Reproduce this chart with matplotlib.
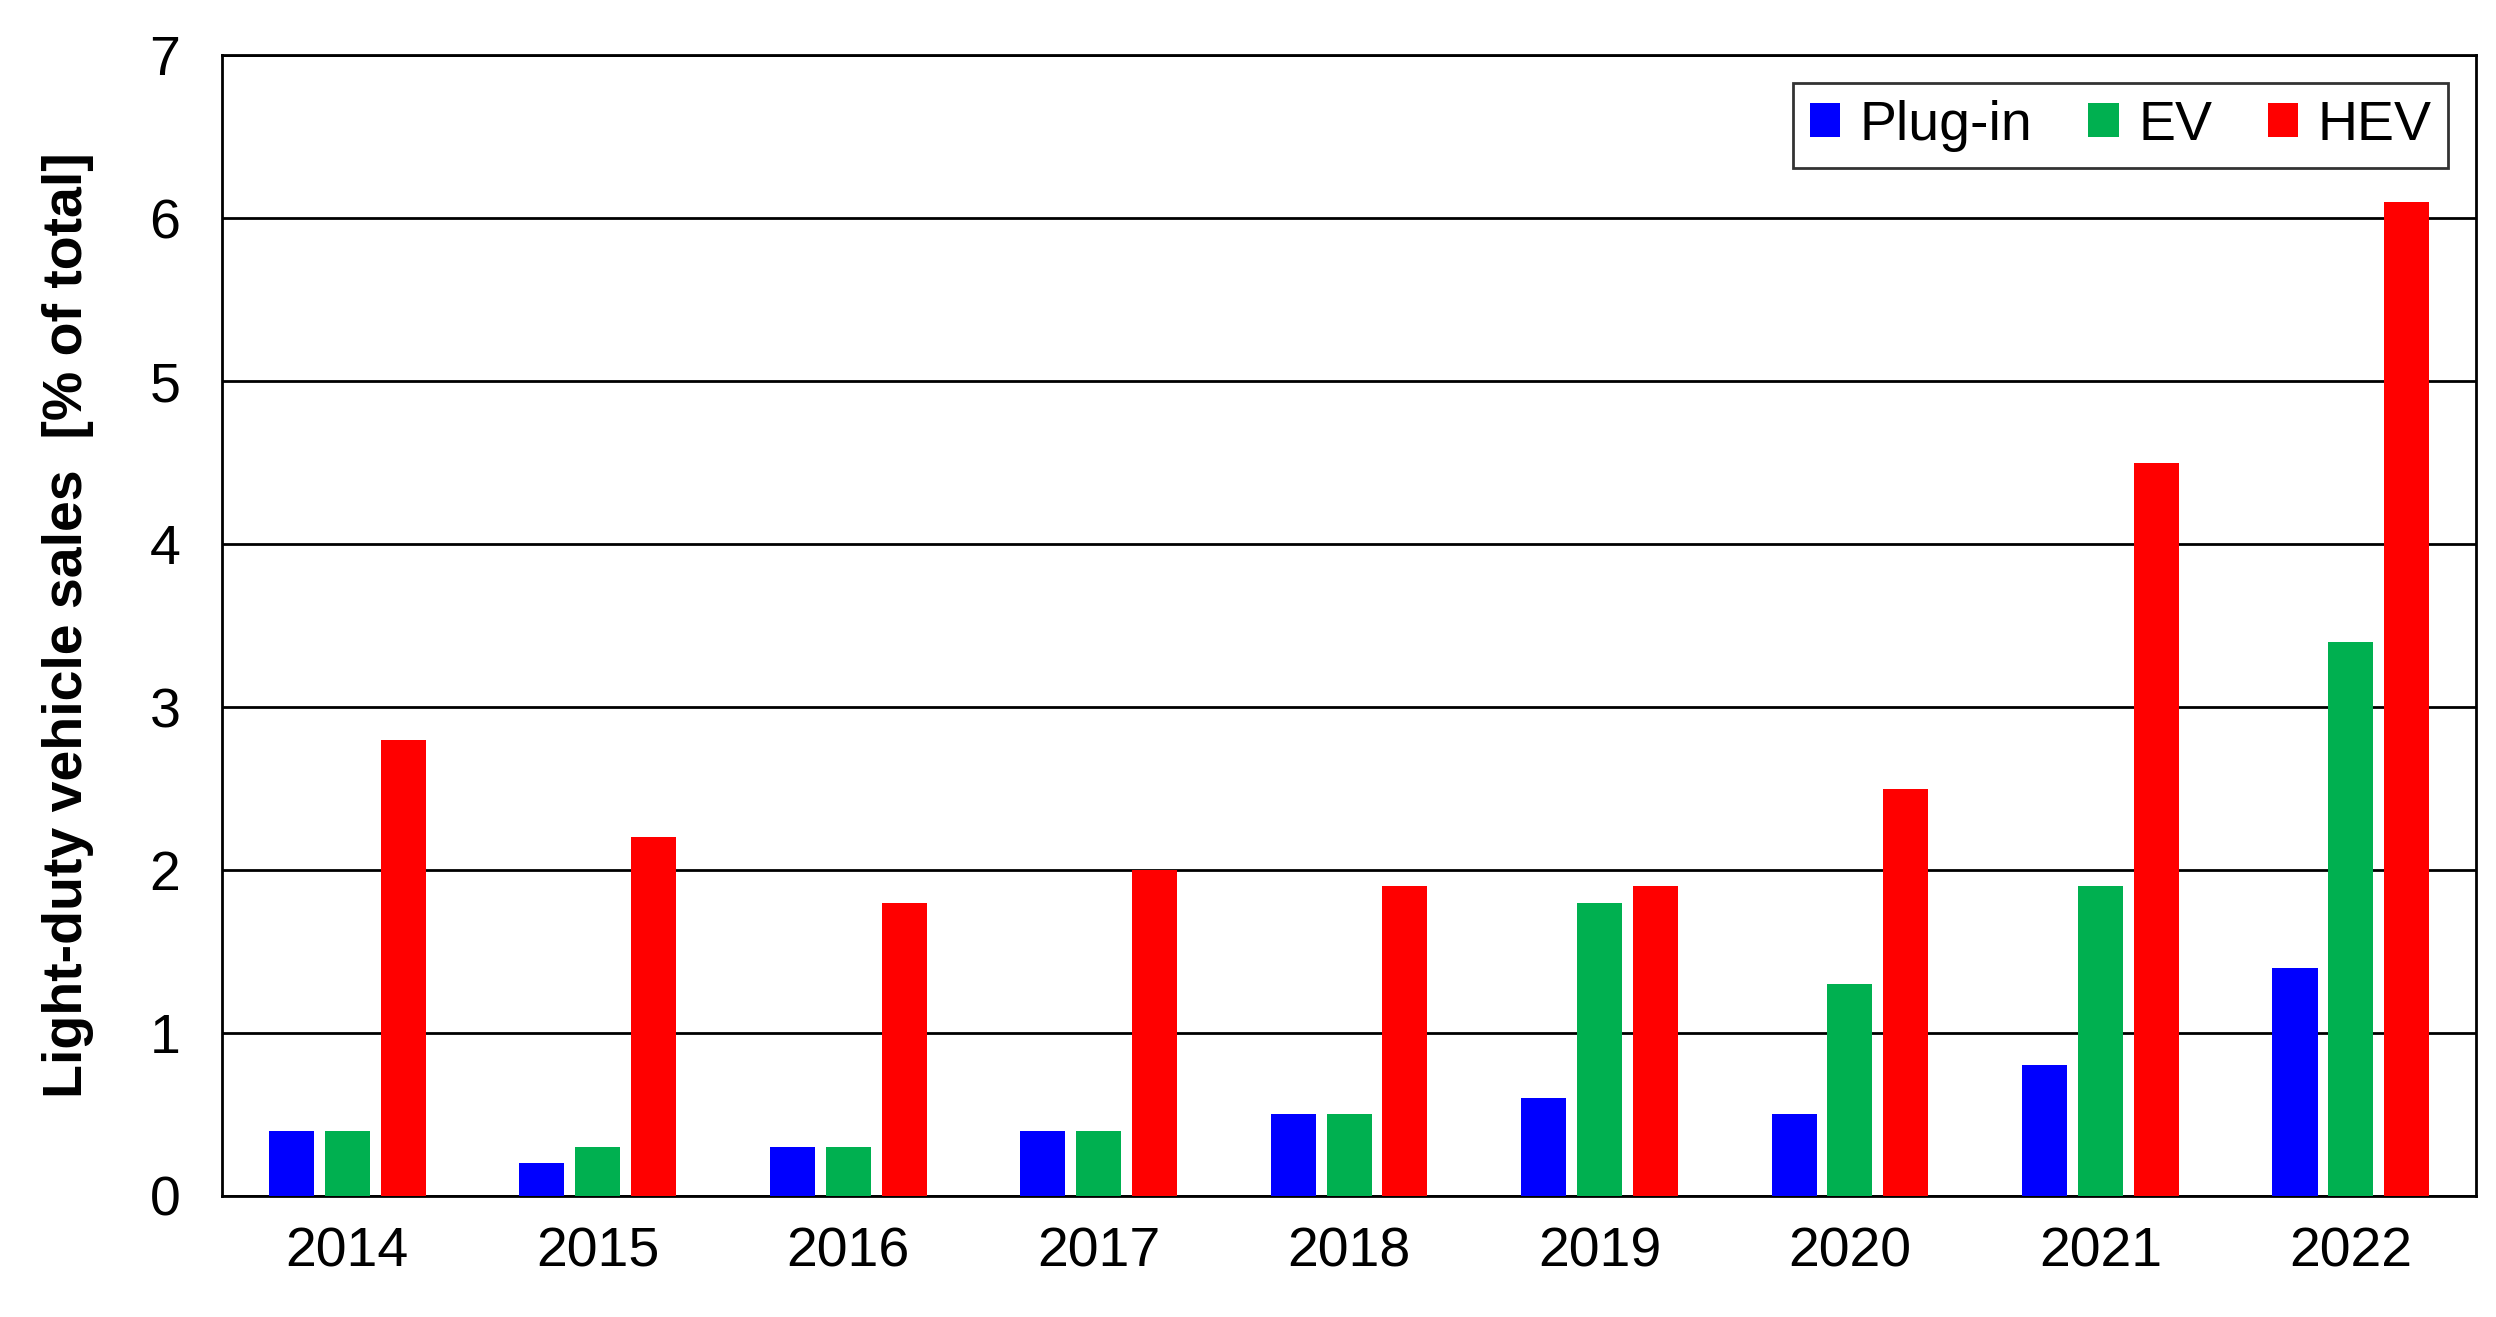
import numpy as np
import matplotlib
matplotlib.use('Agg')
from matplotlib import pyplot as plt

plt.rcParams['font.family'] = ['Liberation Sans', 'DejaVu Sans']

years = ['2014', '2015', '2016', '2017', '2018', '2019', '2020', '2021', '2022']
plugin = [0.4, 0.2, 0.3, 0.4, 0.5, 0.6, 0.5, 0.8, 1.4]
ev = [0.4, 0.3, 0.3, 0.4, 0.5, 1.8, 1.3, 1.9, 3.4]
hev = [2.8, 2.2, 1.8, 2.0, 1.9, 1.9, 2.5, 4.5, 6.1]

fig = plt.figure(figsize=(24.96, 13.17), dpi=100)
ax = fig.add_axes([0.089, 0.092, 0.903, 0.866])

x = np.arange(len(years))
w = 0.18
off = 0.223
ax.bar(x - off, plugin, w, color='#0000FF', label='Plug-in', zorder=3)
ax.bar(x, ev, w, color='#00B050', label='EV', zorder=3)
ax.bar(x + off, hev, w, color='#FF0000', label='HEV', zorder=3)

ax.set_xlim(-0.5, len(years) - 0.5)
ax.set_ylim(0, 7)
ax.set_yticks(range(8))
ax.yaxis.grid(True, color='black', linewidth=2, zorder=0)
ax.set_xticks(x)
ax.set_xticklabels(years)
ax.tick_params(axis='x', length=0, pad=22, labelsize=40)
ax.tick_params(axis='y', length=0, pad=30, labelsize=40)
for s in ax.spines.values():
    s.set_linewidth(2)
ax.set_ylabel('Light-duty vehicle sales  [% of total]', fontsize=40, fontweight='bold', labelpad=40)

leg = ax.legend(loc='upper right', ncol=3, fontsize=40, fancybox=False, edgecolor='black',
                handlelength=0.55, handleheight=0.55, handletextpad=0.35, columnspacing=1.0,
                borderaxespad=0.5, borderpad=0.3)
leg.get_frame().set_linewidth(2)

fig.savefig('out.png', dpi=100)
